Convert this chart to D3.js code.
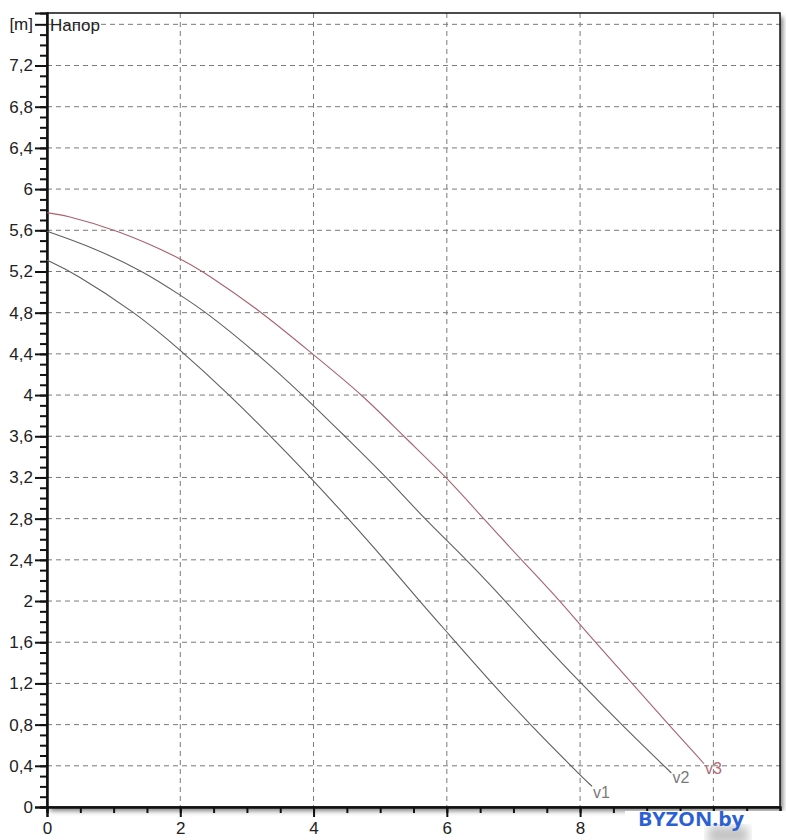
<!DOCTYPE html>
<html><head><meta charset="utf-8">
<script src="https://cdn.jsdelivr.net/npm/d3@7"></script>
<style>body{margin:0;background:#fff;}svg{display:block;font-family:"Liberation Sans",Arial,sans-serif;}</style>
</head><body>
<script>
// ---- data ----
const xTicksMajor = [0, 2, 4, 6, 8, 10];
const xTickLabels = ["0", "2", "4", "6", "8", ""];
const yTicksMajor = [0,0.4,0.8,1.2,1.6,2,2.4,2.8,3.2,3.6,4,4.4,4.8,5.2,5.6,6,6.4,6.8,7.2,7.6];
const yTickLabels = ["0","0,4","0,8","1,2","1,6","2","2,4","2,8","3,2","3,6","4","4,4","4,8","5,2","5,6","6","6,4","6,8","7,2","[m]"];
const seriesNames = ["v1", "v2", "v3"];
const v1 = [[0,5.31],[0.4,5.19],[1.33,4.8],[2,4.44],[2.74,4.0],[3.36,3.6],[4,3.17],[4.52,2.8],[5.07,2.4],[5.59,2.0],[6,1.7],[6.65,1.22],[7.25,0.8],[8,0.31],[8.18,0.2]];
const v2 = [[0,5.59],[0.7,5.43],[1.45,5.2],[2,4.97],[2.4,4.8],[3.16,4.4],[3.84,4.0],[4.47,3.6],[5.1,3.2],[5.66,2.8],[6.3,2.4],[6.88,2.0],[7.43,1.6],[8,1.21],[8.62,0.8],[9.37,0.33]];
const v3 = [[0,5.77],[0.25,5.75],[1.07,5.6],[2,5.33],[2.39,5.18],[3.24,4.8],[4,4.39],[4.74,4.0],[5.35,3.6],[6,3.2],[6.55,2.8],[7.12,2.4],[7.7,2.0],[8,1.77],[8.23,1.6],[8.78,1.2],[9.33,0.8],[9.86,0.42]];
const seriesColors = ["#5e5e5e", "#606060", "#a8626e"];
const labelColors = ["#7a7a7a", "#7a7a7a", "#b06a78"];
const yTitle = "Напор";
const watermark = "BYZON.by";

const W = 786, H = 840;
const L = 47, R = 780, T = 13, B = 807;
const x = d3.scaleLinear().domain([0, 11]).range([L, R]);
const y = d3.scaleLinear().domain([0, 7.71]).range([B, T]);

const svg = d3.select("body").append("svg").attr("width", W).attr("height", H);
const defs = svg.append("defs");
const f = defs.append("filter").attr("id","sh").attr("x","-5%").attr("y","-5%").attr("width","115%").attr("height","115%");
f.append("feGaussianBlur").attr("in","SourceAlpha").attr("stdDeviation",2.5);
f.append("feOffset").attr("dx",3).attr("dy",4).attr("result","o");
f.append("feComponentTransfer").append("feFuncA").attr("type","linear").attr("slope",0.5);
const fm = f.append("feMerge"); fm.append("feMergeNode"); fm.append("feMergeNode").attr("in","SourceGraphic");

svg.append("rect").attr("x", L).attr("y", T).attr("width", R - L).attr("height", B - T)
  .attr("fill", "#fff").attr("filter","url(#sh)");

// grid
const g = svg.append("g");
g.selectAll(".hg").data(yTicksMajor.filter(d => d > 0)).enter().append("line")
  .attr("x1", L).attr("x2", R).attr("y1", d => y(d)).attr("y2", d => y(d))
  .attr("stroke", "#7a7a7a").attr("stroke-width", 1).attr("stroke-dasharray", "5,4");
g.selectAll(".vg").data(xTicksMajor.filter(d => d > 0)).enter().append("line")
  .attr("y1", T).attr("y2", B).attr("x1", d => x(d)).attr("x2", d => x(d))
  .attr("stroke", "#7a7a7a").attr("stroke-width", 1).attr("stroke-dasharray", "5,4");

svg.append("rect").attr("x", L).attr("y", T).attr("width", R - L).attr("height", B - T)
  .attr("fill", "none").attr("stroke", "#111").attr("stroke-width", 1.5);

// axes
const yAxisMinor = d3.axisLeft(y).tickValues(d3.range(0, 76).map(i => i / 10)).tickSize(7).tickFormat("");
const yAxisMajor = d3.axisLeft(y).tickValues(yTicksMajor).tickSize(12).tickPadding(2)
  .tickFormat((d, i) => yTickLabels[i]);
const xAxisMinor = d3.axisBottom(x).tickValues(d3.range(0, 22).map(i => i / 2)).tickSize(6).tickFormat("");
const xAxisMajor = d3.axisBottom(x).tickValues(xTicksMajor).tickSize(10).tickPadding(5)
  .tickFormat((d, i) => xTickLabels[i]);

function style(sel) {
  sel.select(".domain").attr("stroke", "#111").attr("stroke-width", 2);
  sel.selectAll(".tick line").attr("stroke", "#111").attr("stroke-width", 2);
  sel.selectAll(".tick text").attr("fill", "#222").attr("font-size", 17)
    .attr("font-family", '"Liberation Sans",Arial,sans-serif');
}
svg.append("g").attr("transform", `translate(${L},0)`).call(yAxisMinor).call(style);
svg.append("g").attr("transform", `translate(${L},0)`).call(yAxisMajor).call(style);
svg.append("g").attr("transform", `translate(0,${B})`).call(xAxisMinor).call(style);
svg.append("g").attr("transform", `translate(0,${B})`).call(xAxisMajor).call(style);

svg.append("text").attr("x", L + 3).attr("y", y(7.6) + 7).text(yTitle)
  .attr("font-size", 17).attr("fill", "#222");

// curves
const line = d3.line().x(d => x(d[0])).y(d => y(d[1])).curve(d3.curveBasis);
const series = [v1, v2, v3];
series.forEach((s, i) => {
  svg.append("path").datum(s).attr("d", line).attr("fill", "none")
    .attr("stroke", seriesColors[i]).attr("stroke-width", 1.1);
  const e = s[s.length - 1];
  svg.append("text").attr("x", x(e[0]) + 1).attr("y", y(e[1]) + (i === 0 ? 12 : 10))
    .text(seriesNames[i]).attr("font-size", 16).attr("fill", labelColors[i]);
});

// watermark area
svg.append("rect").attr("x", 625).attr("y", 811).attr("width", 161).attr("height", 29).attr("fill", "#fff");
const f2 = defs.append("filter").attr("id","bl");
f2.append("feGaussianBlur").attr("stdDeviation", 5);
svg.append("rect").attr("x", 708).attr("y", 826).attr("width", 40).attr("height", 18)
  .attr("fill", "#c4c4c4").attr("filter", "url(#bl)");
svg.append("text").attr("x", 638).attr("y", 826).text(watermark)
  .attr("font-size", 19).attr("font-weight", "bold").attr("fill", "#2d5fd4")
  .attr("textLength", 106).attr("lengthAdjust", "spacingAndGlyphs")
  .attr("font-family", '"Open Sans","Liberation Sans",Arial,sans-serif');
</script>
</body></html>
